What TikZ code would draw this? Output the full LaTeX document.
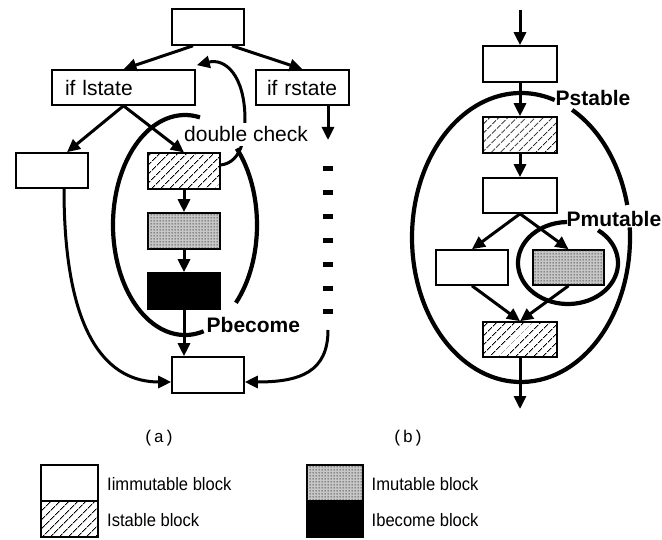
\documentclass[tikz,border=0pt]{standalone}
\usepackage{fontspec}
\setmainfont{Liberation Sans}
\newfontfamily\monof{Liberation Mono}
\newfontfamily\legf{Liberation Sans}[FakeStretch=0.92]
\usetikzlibrary{arrows.meta,patterns,patterns.meta,calc}
\pgfdeclarepattern{name=finedots, type=uncolored,
  bottom left={\pgfpoint{0pt}{0pt}}, top right={\pgfpoint{3pt}{3pt}},
  tile size={\pgfpoint{3pt}{3pt}},
  code={\pgfpathrectangle{\pgfpoint{0.8pt}{0.8pt}}{\pgfpoint{1.4pt}{1.4pt}}\pgfusepath{fill}}}
\begin{document}
\begin{tikzpicture}[x=1pt,y=-1pt,
  plainbox/.style={draw,line width=1.6pt,fill=white,minimum width=72pt,minimum height=36pt,inner sep=0pt},
  hatchbox/.style={plainbox,pattern={Lines[angle=45,distance=6.5pt,line width=1.1pt]},pattern color=black},
  dotbox/.style={plainbox,fill=black!22,postaction={pattern=finedots,pattern color=black!80}},
  solidbox/.style={plainbox,fill=black},
  arr/.style={line width=3pt,-{Triangle[length=13pt,width=12pt]}},
  oval/.style={line width=4.2pt},
  lbl/.style={font=\fontsize{21}{24}\selectfont,inner sep=0pt},
  lblb/.style={font=\bfseries\fontsize{21}{24}\selectfont,inner sep=0pt},
  legtext/.style={font=\legf\fontsize{18}{21}\selectfont,inner sep=0pt},
  captext/.style={font=\monof\fontsize{17}{20}\selectfont,inner sep=0pt}]
\useasboundingbox (0,0) rectangle (662,540);

% ---------- panel (a) ----------
\node[plainbox] (top) at (208,27) {};
\node[plainbox,minimum width=143pt,minimum height=35pt,text width=117pt,inner xsep=13pt,align=left,font=\fontsize{21}{24}\selectfont] (lst) at (123.5,87.5) {if lstate};
\node[plainbox,minimum width=93pt,minimum height=35pt,text width=71pt,inner xsep=11pt,align=left,font=\fontsize{21}{24}\selectfont] (rst) at (302.5,87.5) {if rstate};
\node[plainbox,minimum height=35pt] (la) at (52,170.5) {};
\node[hatchbox] (hat) at (184,171) {};
\node[dotbox] (dot) at (184,231) {};
\node[solidbox] (blkb) at (184,291) {};
\node[plainbox] (bot) at (208,375) {};

\draw[arr] ($(top.south)+(-15,0)$) -- (lst.north);
\draw[arr] ($(top.south)+(24,0)$) -- (rst.north);
\draw[arr] (lst.south) -- ($(la.north)+(15,0)$);
\draw[arr] (lst.south) -- (hat.north);
\draw[arr] (hat.south) -- (dot.north);
\draw[arr] (dot.south) -- (blkb.north);
\draw[arr] (blkb.south) -- (blkb.south |- bot.north);
\draw[arr] ($(la.south)+(12,0)$) .. controls (64,340) and (110,382) .. ($(bot.west)+(0,7)$);

\coordinate (rtip) at (328,140);
\coordinate (dtop) at (328,166.5);
\coordinate (dbot) at (328,316);
\coordinate (rcur) at (328,330);
\draw[arr] ($(rst.south)+(25.5,0)$) -- (rtip);
\draw[line width=10.5pt,dash pattern=on 5pt off 18.83pt] (dtop) -- (dbot);
\draw[arr] (rcur) .. controls (328,372) and (300,382) .. ($(bot.east)+(0,7)$);

% ellipse Pbecome
\draw[oval] (185,225) ++(-44:72 and 110) arc[start angle=-44,end angle=45,x radius=72,y radius=110];
\draw[oval] (185,225) ++(75:72 and 110) arc[start angle=75,end angle=282,x radius=72,y radius=110];

% double check
\draw[arr] ($(hat.east)+(0,-6)$) .. controls (238,163) and (245,145) .. (245,120) .. controls (245,75) and (225,58) .. ($(lst.north east)+(1,-4)$);
\node[lbl,fill=white,inner xsep=1pt,inner ysep=4pt,anchor=base west] (dc) at (183,142) {double check};
\node[lblb,anchor=base west] (pbec) at (206.5,333) {Pbecome};

% ---------- panel (b) ----------
\coordinate (bin) at (520,10);
\node[plainbox,minimum width=74pt] (b1) at (520,64) {};
\node[hatchbox,minimum width=74pt] (b2) at (520,135) {};
\node[plainbox,minimum width=74pt,minimum height=35pt] (b3) at (520,195.5) {};
\node[plainbox,minimum height=35pt] (b4) at (472,267.5) {};
\node[dotbox,minimum width=71pt,minimum height=35pt] (b5) at (568.5,267.5) {};
\node[hatchbox,minimum width=74pt,minimum height=35pt] (b6) at (520,339.5) {};
\coordinate (bout) at (520,409);

\draw[arr] (bin) -- (b1.north);
\draw[arr] (b1.south) -- (b2.north);
\draw[arr] (b2.south) -- (b3.north);
\draw[arr] (b3.south) -- (b4.north);
\draw[arr] (b3.south) -- (b5.north);
\draw[arr] (b4.south) -- (b6.north);
\draw[arr] (b5.south) -- (b6.north);
\draw[arr] (b6.south) -- (bout);

\draw[oval] (521,237.5) ++(-62:109 and 144.5) arc[start angle=-62,end angle=-13,x radius=109,y radius=144.5];
\draw[oval] (521,237.5) ++(-4:109 and 144.5) arc[start angle=-4,end angle=288,x radius=109,y radius=144.5];
\draw[oval] (568,263) ++(-53:50 and 41) arc[start angle=-53,end angle=269,x radius=50,y radius=41];

\node[lblb,anchor=base west] (pst) at (555.5,106) {Pstable};
\node[lblb,anchor=base west] (pmu) at (566.5,227) {Pmutable};

% ---------- captions ----------
\node[captext] (capa) at (159,438.5) {(a)};
\node[captext] (capb) at (408,438.5) {(b)};

% ---------- legend ----------
\node[plainbox,minimum width=57pt,minimum height=36pt] (lg1) at (69.5,483) {};
\node[hatchbox,minimum width=57pt,minimum height=36pt] (lg2) at (69.5,519) {};
\node[dotbox,minimum width=56pt,minimum height=36pt] (lg3) at (335,483) {};
\node[solidbox,minimum width=56pt,minimum height=36pt] (lg4) at (335,519) {};
\node[legtext,anchor=base west] (t1) at (107,490) {Iimmutable block};
\node[legtext,anchor=base west] (t2) at (107,526) {Istable block};
\node[legtext,anchor=base west] (t3) at (371.5,490) {Imutable block};
\node[legtext,anchor=base west] (t4) at (371.5,526) {Ibecome block};
\end{tikzpicture}
\end{document}
